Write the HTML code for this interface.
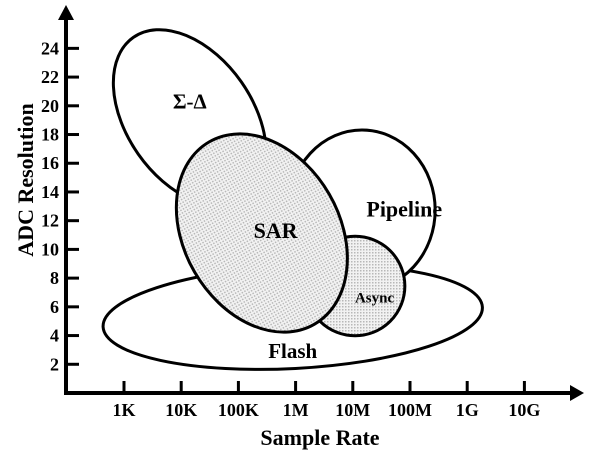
<!DOCTYPE html>
<html><head><meta charset="utf-8"><style>
body{margin:0;background:#fff}
svg{display:block;font-family:"Liberation Serif",serif;font-weight:bold}
</style></head><body>
<svg id="c" width="606" height="472" viewBox="0 0 606 472">
<defs><pattern id="dots" width="3" height="3" patternUnits="userSpaceOnUse"><rect width="3" height="3" fill="#f2f2f2"/><rect width="1.5" height="1.5" fill="#b8b8b8"/></pattern></defs>
</svg>
<script>
const xTicks=["1K","10K","100K","1M","10M","100M","1G","10G"];
const yTicks=[2,4,6,8,10,12,14,16,18,20,22,24];
const regions=["Flash","Σ-Δ","Pipeline","Async","SAR"];
const centerLog=[5.95,4.15,7.16,7.04,5.41];
const centerBits=[5.29,19.15,12.74,7.45,11.14];
const radiusXDec=[3.32,1.72,1.28,0.87,1.84];
const radiusYDec=[0.9,1.1,1.40,0.87,1.36];
const rotation=[-3,55,0,0,60];
const shaded=[false,false,false,true,true];
const labelLog=[5.95,4.15,7.9,7.38,5.65];
const labelBits=[2.45,19.8,12.3,6.3,10.8];
const labelSize=[21,21,22,15,22];
const X0=124,DX=57.2,Y0=393,DY=14.36;
const sx=l=>X0+(l-3)*DX, sy=b=>Y0-b*DY;
const svg=document.getElementById('c');const NS='http://www.w3.org/2000/svg';
function mk(t,a,p){const e=document.createElementNS(NS,t);for(const k in a)e.setAttribute(k,a[k]);(p||svg).appendChild(e);return e;}
regions.forEach((r,i)=>{
 const e=mk('ellipse',{cx:sx(centerLog[i]),cy:sy(centerBits[i]),rx:radiusXDec[i]*DX,ry:radiusYDec[i]*DX,
  transform:`rotate(${rotation[i]} ${sx(centerLog[i])} ${sy(centerBits[i])})`,fill:shaded[i]?'url(#dots)':'#fff',stroke:'#000','stroke-width':3});
 
 
});
regions.forEach((r,i)=>{
 const t=mk('text',{x:sx(labelLog[i]),y:sy(labelBits[i]),'text-anchor':'middle','font-size':labelSize[i]});t.textContent=r;
 
 
});
let a=mk('line',{x1:66,y1:393,x2:570,y2:393,stroke:'#000','stroke-width':4});

a=mk('polygon',{points:'570,385 584,393 570,401',fill:'#000'});

a=mk('line',{x1:66,y1:395,x2:66,y2:18,stroke:'#000','stroke-width':4});

a=mk('polygon',{points:'58,20 66,5 74,20',fill:'#000'});

xTicks.forEach((l,i)=>{const x=sx(3+i);
 const k=mk('line',{x1:x,y1:381,x2:x,y2:393,stroke:'#000','stroke-width':3});
 
 const t=mk('text',{x:x,y:416,'text-anchor':'middle','font-size':18});t.textContent=l;
 });
yTicks.forEach(v=>{const y=sy(v);
 const k=mk('line',{x1:66,y1:y,x2:79,y2:y,stroke:'#000','stroke-width':3});
 
 const t=mk('text',{x:59,y:y+6,'text-anchor':'end','font-size':18});t.textContent=v;
 });
let t=mk('text',{x:320,y:445,'text-anchor':'middle','font-size':22});t.textContent='Sample Rate';

t=mk('text',{x:0,y:0,'text-anchor':'middle','font-size':22,transform:'translate(33,180) rotate(-90)'});t.textContent='ADC Resolution';

</script>
</body></html>
